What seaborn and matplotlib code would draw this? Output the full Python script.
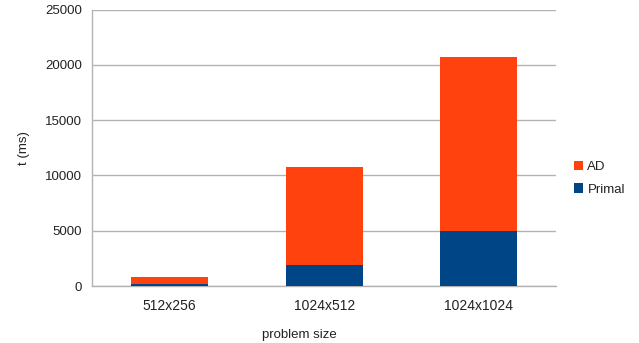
import matplotlib
matplotlib.use("Agg")
import matplotlib.pyplot as plt
import seaborn as sns
import pandas as pd
from matplotlib.patches import Patch

categories = ["512x256", "1024x512", "1024x1024"]
primal = [150, 1920, 5000]
ad = [690, 8820, 15700]

df = pd.DataFrame({"size": categories, "Primal": primal, "AD": ad})
df["Total"] = df["Primal"] + df["AD"]

sns.set_style("white")
plt.rcParams["font.family"] = ["Liberation Sans", "DejaVu Sans"]

c_ad = "#ff420e"
c_pr = "#004586"
grey = "#b3b3b3"
txt = "#222222"

fig = plt.figure(figsize=(6.39, 3.43), dpi=100)
ax = fig.add_axes([0.1447, 0.166, 0.7253, 0.806])

sns.barplot(data=df, x="size", y="Total", color=c_ad, width=0.5, ax=ax,
            saturation=1, linewidth=0, zorder=3)
sns.barplot(data=df, x="size", y="Primal", color=c_pr, width=0.5, ax=ax,
            saturation=1, linewidth=0, zorder=3)

ax.set_xlim(-0.5, 2.5)
ax.set_ylim(0, 25000)
ax.set_yticks([0, 5000, 10000, 15000, 20000, 25000])
ax.yaxis.grid(True, color=grey, linewidth=1, zorder=0)
ax.set_axisbelow(True)

for s in ["top", "right"]:
    ax.spines[s].set_visible(False)
for s in ["left", "bottom"]:
    ax.spines[s].set_color(grey)
    ax.spines[s].set_linewidth(1)

ax.set_xticks([0, 1, 2])
ax.set_xticklabels(categories)
ax.set_xticks([-0.5, 0.5, 1.5, 2.5], minor=True)
ax.tick_params(axis="x", which="major", length=0, pad=9, labelsize=10, colors=txt)
ax.tick_params(axis="x", which="minor", length=4.5, width=1, color=grey, direction="out")
ax.tick_params(axis="y", which="major", length=4.5, width=1, color=grey, direction="out",
               labelsize=9.5, labelcolor=txt, pad=3)

ax.set_xlabel("problem size", fontsize=9.5, color=txt)
ax.xaxis.set_label_coords(0.4455, -0.157)
ax.set_ylabel("t (ms)", fontsize=9.5, color=txt)
ax.yaxis.set_label_coords(-0.135, 0.5)

handles = [Patch(facecolor=c_ad, edgecolor="none", label="AD"),
           Patch(facecolor=c_pr, edgecolor="none", label="Primal")]
fig.legend(handles=handles, loc="center left", bbox_to_anchor=(0.879, 0.48),
           frameon=False, fontsize=9.5, handlelength=0.7, handleheight=0.7,
           handletextpad=0.35, labelspacing=0.75, labelcolor=txt)

fig.savefig("out.png", dpi=100)
